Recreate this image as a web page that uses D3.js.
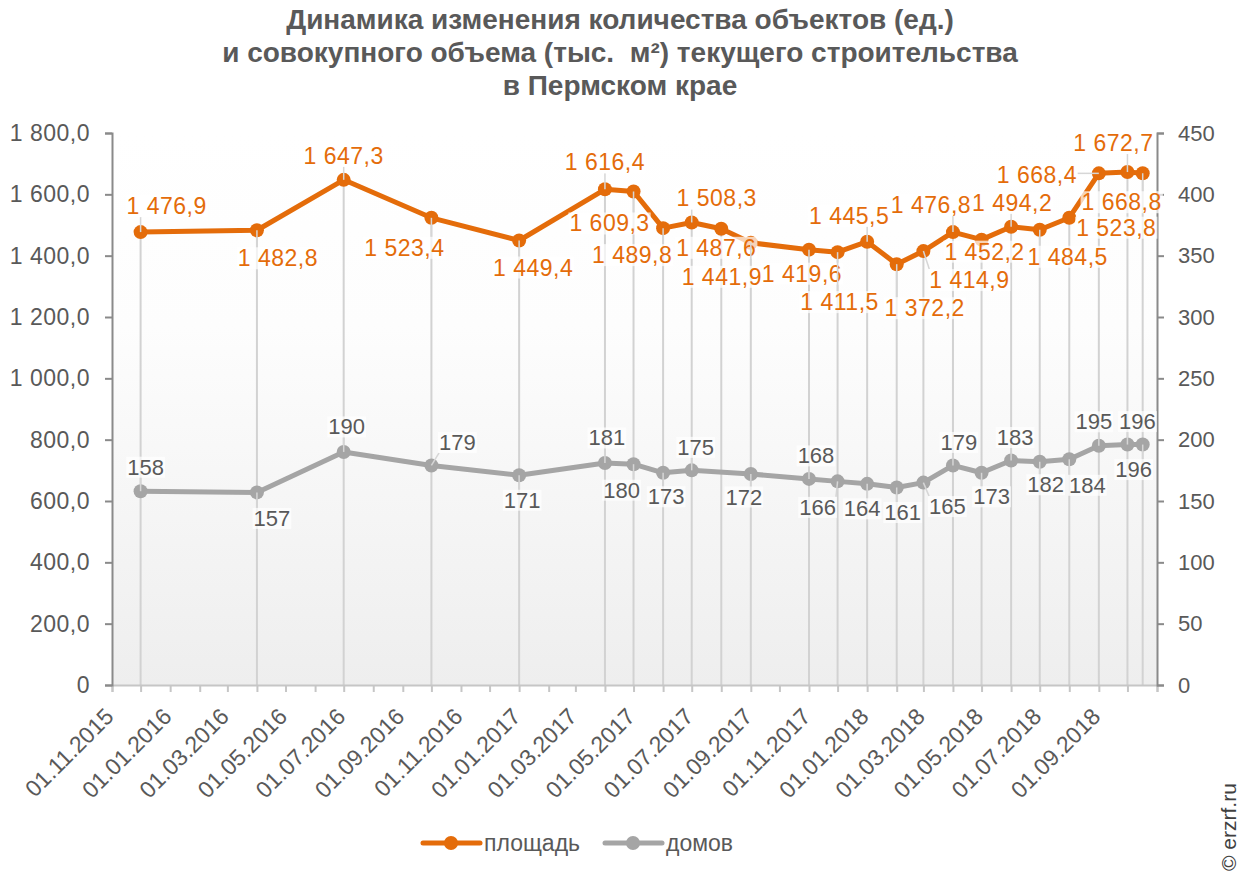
<!DOCTYPE html>
<html>
<head>
<meta charset="utf-8">
<script src="https://cdn.jsdelivr.net/npm/d3@7"></script>
<style>
  body { margin: 0; background: #fff; }
  text { font-family: "Liberation Sans", Arial, sans-serif; }
</style>
</head>
<body>
<svg id="chart" width="1243" height="881"></svg>
<script>
// ---- data ----
const dates = ["2015-12-01", "2016-04-01", "2016-07-01", "2016-10-01", "2017-01-01", "2017-04-01",
  "2017-05-01", "2017-06-01", "2017-07-01", "2017-08-01", "2017-09-01", "2017-11-01",
  "2017-12-01", "2018-01-01", "2018-02-01", "2018-03-01", "2018-04-01", "2018-05-01",
  "2018-06-01", "2018-07-01", "2018-08-01", "2018-09-01", "2018-10-01", "2018-10-17"];
const areaValues = [1476.9, 1482.8, 1647.3, 1523.4, 1449.4, 1616.4, 1609.3, 1489.8, 1508.3, 1487.6,
  1441.9, 1419.6, 1411.5, 1445.5, 1372.2, 1414.9, 1476.8, 1452.2, 1494.2, 1484.5, 1523.8,
  1668.4, 1672.7, 1668.8];
const houseValues = [158, 157, 190, 179, 171, 181, 180, 173, 175, null, 172, 168, 166, 164, 161,
  165, 179, 173, 183, 182, 184, 195, 196, 196];
const seriesNames = ["площадь", "домов"];
const titleLines = ["Динамика изменения количества объектов (ед.)",
  "и совокупного объема (тыс.  м²) текущего строительства", "в Пермском крае"];
const leftTicks = [0, 200, 400, 600, 800, 1000, 1200, 1400, 1600, 1800];
const rightTicks = [0, 50, 100, 150, 200, 250, 300, 350, 400, 450];

// label placement (dx, dy of label centre from its point), like the manual moves in the original
const areaLabelPos = [[26, -26], [21, 28], [0, -24], [-27, 30], [14, 27], [0, -27], [-24, 32],
  [-31, 27], [25, -24], [-5, 19], [-29, 34], [-7, 24], [2, 50], [-18, -26], [28, 44], [46, 29],
  [-22, -27], [3, 12], [1, -24], [28, 27], [47, 10], [-62, 2], [-14, -29], [-21, 29]];
const houseLabelPos = [[5, -24], [15, 26], [3, -25], [26, -23], [3, 25], [2, -25], [-12, 26],
  [3, 24], [4, -23], null, [-7, 23], [7, -23], [-20, 26], [-5, 25], [6, 25], [24, 24], [6, -23],
  [10, 24], [4, -23], [6, 23], [18, 26], [-5, -24], [10, -23], [-9, 25]];

const orange = "#e46c0a";
const grey = "#a5a5a5";
const textColor = "#595959";

const svg = d3.select("#chart");
const margins = [133, 86, 196, 112]; // top, right, bottom, left
const width = 1243, height = 881;
const plotBottom = height - margins[2];
const plotRight = width - margins[1];

const parseDate = d3.timeParse("%Y-%m-%d");
const ruLocale = d3.formatLocale({ decimal: ",", thousands: "\u00a0", grouping: [3], currency: ["", ""] });
const fmt1 = ruLocale.format(",.1f");

const x = d3.scaleTime()
  .domain([parseDate("2015-11-01"), parseDate("2018-11-01")])
  .range([margins[3], plotRight]);
const yLeft = d3.scaleLinear().domain([0, 1800]).range([plotBottom, margins[0]]);
const yRight = d3.scaleLinear().domain([0, 450]).range([plotBottom, margins[0]]);

const points = dates.map((d, i) => ({
  date: parseDate(d), area: areaValues[i], houses: houseValues[i], i: i
}));

// ---- title ----
svg.append("g")
  .selectAll("text")
  .data(titleLines)
  .join("text")
  .attr("x", 620)
  .attr("y", (d, i) => 29 + i * 33)
  .attr("text-anchor", "middle")
  .attr("fill", textColor)
  .style("font-size", "28px")
  .style("font-weight", "bold")
  .style("white-space", "pre")
  .text((d) => d);

// ---- plot background ----
const defs = svg.append("defs");
const grad = defs.append("linearGradient")
  .attr("id", "bg")
  .attr("x1", 0).attr("y1", 0).attr("x2", 0).attr("y2", 1);
grad.append("stop").attr("offset", "0%").attr("stop-color", "#ffffff");
grad.append("stop").attr("offset", "35%").attr("stop-color", "#fdfdfd");
grad.append("stop").attr("offset", "100%").attr("stop-color", "#eeeeee");

svg.append("rect")
  .attr("x", margins[3])
  .attr("y", margins[0])
  .attr("width", plotRight - margins[3])
  .attr("height", plotBottom - margins[0])
  .attr("fill", "url(#bg)");

// ---- drop lines ----
svg.append("g")
  .selectAll("line")
  .data(points)
  .join("line")
  .attr("x1", (d) => x(d.date))
  .attr("x2", (d) => x(d.date))
  .attr("y1", (d) => Math.min(yLeft(d.area), d.houses == null ? plotBottom : yRight(d.houses)))
  .attr("y2", plotBottom)
  .attr("stroke", "#d2d2d2")
  .attr("stroke-width", 2);

// ---- axes ----
const monthTicks = d3.timeMonth.range(parseDate("2015-11-01"), parseDate("2018-11-02"));

const xAxis = svg.append("g")
  .attr("transform", `translate(0, ${plotBottom})`)
  .call(d3.axisBottom(x).tickValues(monthTicks).tickSize(7).tickFormat(""));
xAxis.select(".domain").attr("stroke", "#c6c6c6").attr("stroke-width", 2);
xAxis.selectAll(".tick line").attr("stroke", "#c6c6c6").attr("stroke-width", 2);

const labelMonths = monthTicks.filter((d, i) => i % 2 === 0 && d < parseDate("2018-10-01"));
const xFmt = d3.timeFormat("%d.%m.%Y");
svg.append("g")
  .selectAll("text")
  .data(labelMonths)
  .join("text")
  .attr("transform", (d) => `translate(${x(d) + 3}, 718) rotate(-45)`)
  .attr("text-anchor", "end")
  .attr("fill", textColor)
  .style("font-size", "23px")
  .text((d) => xFmt(d));

const leftAxis = svg.append("g")
  .attr("transform", `translate(${margins[3]}, 0)`)
  .call(d3.axisLeft(yLeft).tickValues(leftTicks).tickSize(7).tickPadding(15)
    .tickFormat((d) => (d === 0 ? "0" : fmt1(d))));
leftAxis.select(".domain").attr("stroke", "#8a8a8a").attr("stroke-width", 2);
leftAxis.selectAll(".tick line").attr("stroke", "#8a8a8a").attr("stroke-width", 2);
leftAxis.selectAll(".tick text")
  .attr("fill", textColor)
  .style("font-size", "23px")
  .style("letter-spacing", "0.5px")
  .style("font-family", "'Liberation Sans', Arial, sans-serif");

const rightAxis = svg.append("g")
  .attr("transform", `translate(${plotRight}, 0)`)
  .call(d3.axisRight(yRight).tickValues(rightTicks).tickSize(7).tickPadding(14));
rightAxis.select(".domain").attr("stroke", "#8a8a8a").attr("stroke-width", 2);
rightAxis.selectAll(".tick line").attr("stroke", "#8a8a8a").attr("stroke-width", 2);
rightAxis.selectAll(".tick text")
  .attr("fill", textColor)
  .style("font-size", "22px")
  .style("font-family", "'Liberation Sans', Arial, sans-serif");

// ---- lines and markers ----
const areaLine = d3.line().x((d) => x(d.date)).y((d) => yLeft(d.area));
const houseLine = d3.line().x((d) => x(d.date)).y((d) => yRight(d.houses));
const housePoints = points.filter((d) => d.houses != null);

svg.append("path")
  .datum(housePoints)
  .attr("d", houseLine)
  .attr("fill", "none")
  .attr("stroke", grey)
  .attr("stroke-width", 5)
  .attr("stroke-linejoin", "round");

svg.append("g")
  .selectAll("circle")
  .data(housePoints)
  .join("circle")
  .attr("cx", (d) => x(d.date))
  .attr("cy", (d) => yRight(d.houses))
  .attr("r", 7)
  .attr("fill", grey);

svg.append("path")
  .datum(points)
  .attr("d", areaLine)
  .attr("fill", "none")
  .attr("stroke", orange)
  .attr("stroke-width", 5)
  .attr("stroke-linejoin", "round");

svg.append("g")
  .selectAll("circle")
  .data(points)
  .join("circle")
  .attr("cx", (d) => x(d.date))
  .attr("cy", (d) => yLeft(d.area))
  .attr("r", 7)
  .attr("fill", orange);

// ---- data labels ----
function drawLabels(data, getY, getText, offsets, color, size, spacing) {
  const g = svg.append("g");
  data.forEach((d) => {
    const off = offsets[d.i];
    if (!off) return;
    const px = x(d.date), py = getY(d);
    const cx = px + off[0], cy = py + off[1];
    const lg = g.append("g");
    const leader = lg.append("line");
    const bgRect = lg.append("rect");
    const t = lg.append("text")
      .attr("x", cx)
      .attr("y", cy)
      .attr("text-anchor", "middle")
      .attr("dominant-baseline", "central")
      .attr("fill", color)
      .style("font-size", size)
      .style("letter-spacing", spacing)
      .text(getText(d));
    const b = t.node().getBBox();
    bgRect.attr("x", b.x - 1).attr("y", b.y + 2)
      .attr("width", b.width + 2).attr("height", b.height - 4)
      .attr("fill", "#fff").attr("opacity", 0.7);
    // leader line to the nearest edge of the label box
    const nx = Math.max(b.x, Math.min(px, b.x + b.width));
    const ny = Math.max(b.y + 2, Math.min(py, b.y + b.height - 2));
    if (Math.hypot(nx - px, ny - py) > 9) {
      leader.attr("x1", px).attr("y1", py).attr("x2", nx).attr("y2", ny)
        .attr("stroke", "#d6d6d6").attr("stroke-width", 1.5);
    } else {
      leader.remove();
    }
  });
}

drawLabels(points, (d) => yLeft(d.area), (d) => fmt1(d.area), areaLabelPos, orange, "23px", "0.5px");
drawLabels(housePoints, (d) => yRight(d.houses), (d) => String(d.houses), houseLabelPos, textColor, "22px", "0px");

// ---- legend ----
const legend = svg.append("g").attr("transform", "translate(423, 843)");
[orange, grey].forEach((c, i) => {
  const item = legend.append("g").attr("transform", `translate(${i * 182}, 0)`);
  item.append("line")
    .attr("x1", 0).attr("x2", 57).attr("y1", 0).attr("y2", 0)
    .attr("stroke", c).attr("stroke-width", 5).attr("stroke-linecap", "round");
  item.append("circle").attr("cx", 28).attr("cy", 0).attr("r", 7).attr("fill", c);
  item.append("text")
    .attr("x", 61)
    .attr("y", 8)
    .attr("fill", textColor)
    .style("font-size", "23px")
    .text(seriesNames[i]);
});

// ---- watermark ----
svg.append("text")
  .attr("transform", "translate(1236, 871) rotate(-90)")
  .attr("fill", "#404040")
  .style("font-size", "21px")
  .text("© erzrf.ru");
</script>
</body>
</html>
